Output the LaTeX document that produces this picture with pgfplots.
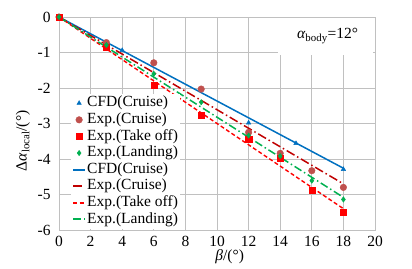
\documentclass[border=0pt]{standalone}
\usepackage{fontspec}
\setmainfont{Liberation Serif}
\usepackage{pgfplots}
\pgfplotsset{compat=1.18}
\definecolor{cfdblue}{HTML}{0070C0}
\definecolor{expbrown}{HTML}{C0504D}
\definecolor{darkred}{HTML}{C00000}
\definecolor{tored}{HTML}{FF0000}
\definecolor{landgreen}{HTML}{00B050}
\definecolor{gridgray}{HTML}{C0C0C0}
\begin{document}
\fontsize{15.5}{17}\selectfont
\begin{tikzpicture}
\begin{axis}[
  scale only axis,
  width=316pt, height=213pt,
  xmin=0, xmax=20, ymin=-6, ymax=0,
  xtick={0,2,...,20},
  xticklabels={0,2,4,6,8,10,12,14,16,18,20},
  ytick={-6,-5,-4,-3,-2,-1,0},
  yticklabels={-6,-5,-4,-3,-2,-1,0},
  grid=major,
  major grid style={gridgray, line width=0.8pt},
  axis line style={gridgray, line width=0.8pt},
  major tick length=0pt,
  tick label style={font=\fontsize{15.5}{17}\selectfont},
  xticklabel style={yshift=-0.5pt},
  yticklabel style={xshift=-3pt},
  xlabel={\textit{β}/(°)},
  ylabel={Δ\textit{α}\textsubscript{local}/(°)},
  label style={font=\fontsize{15.5}{17}\selectfont},
  xlabel style={at={(axis description cs:0.54,-0.124)}, anchor=center},
  ylabel style={at={(axis description cs:-0.114,0.418)}, anchor=center},
  legend style={draw=none, fill=white, at={(axis cs:0.75,-5.97)}, anchor=south west,
    font=\fontsize{15.5}{17}\selectfont, inner sep=1pt, row sep=0pt,
    nodes={inner sep=1pt, text height=11pt, text depth=3.6pt}},
  legend cell align=left,
  legend image code/.code={\draw[mark repeat=2,mark phase=2,#1] plot coordinates {(0cm,0cm) (0.21cm,0cm) (0.42cm,0cm)};},
]
\fill[white] (axis cs:13.85,-0.03) rectangle (axis cs:19.85,-1.06);
\node[inner sep=0pt] at (axis cs:17.0,-0.53) {\textit{α}\textsubscript{body}=12°};
% markers
\addplot[only marks, mark=triangle*, mark size=2.6pt, color=cfdblue] coordinates {
(0,0) (4,-0.94) (12,-2.98) (15,-3.56) (18,-4.29)};
\addlegendentry{CFD(Cruise)}
\addplot[only marks, mark=*, mark size=3.3pt, color=expbrown] coordinates {
(0,0) (3,-0.72) (6,-1.29) (9,-2.03) (12,-3.25) (14,-3.84) (16,-4.33) (18,-4.80)};
\addlegendentry{Exp.(Cruise)}
\addplot[only marks, mark=square*, mark size=3.1pt, color=tored] coordinates {
(0,0) (3,-0.86) (6,-1.91) (9,-2.76) (12,-3.45) (14,-3.98) (16,-4.87) (18,-5.50)};
\addlegendentry{Exp.(Take off)}
\addplot[only marks, mark=diamond*, mark size=2.7pt, color=landgreen] coordinates {
(0,0) (3,-0.79) (6,-1.60) (9,-2.40) (12,-3.34) (14,-3.92) (16,-4.61) (18,-5.14)};
\addlegendentry{Exp.(Landing)}
% fitted lines
\addplot[cfdblue, line width=1.5pt, legend image code/.code={\draw[cfdblue, line width=1.8pt] (0cm,0cm) -- (0.42cm,0cm);}] coordinates {(0,0) (18,-4.26)};
\addlegendentry{CFD(Cruise)}
\addplot[darkred, line width=1.5pt, dash pattern=on 9pt off 3pt on 1.5pt off 3pt, legend image code/.code={\draw[darkred, line width=1.8pt] (0cm,0cm) -- (0.42cm,0cm);}] coordinates {(0,0) (18,-4.70)};
\addlegendentry{Exp.(Cruise)}
\addplot[tored, line width=1.4pt, dash pattern=on 4pt off 2.5pt, legend image code/.code={\draw[tored, line width=1.6pt, dash pattern=on 4pt off 2.5pt] (0cm,0cm) -- (0.42cm,0cm);}] coordinates {(0,0) (18,-5.40)};
\addlegendentry{Exp.(Take off)}
\addplot[landgreen, line width=1.5pt, dash pattern=on 8pt off 3pt on 1.5pt off 3pt, legend image code/.code={\draw[landgreen, line width=2.2pt] (0cm,0.02cm) -- (0.42cm,0.02cm);}] coordinates {(0,0) (18,-5.08)};
\addlegendentry{Exp.(Landing)}
\end{axis}
\path ([shift={(-59pt,-37pt)}]current axis.south west) rectangle ([shift={(37pt,17pt)}]current axis.north east);
\end{tikzpicture}
\end{document}
